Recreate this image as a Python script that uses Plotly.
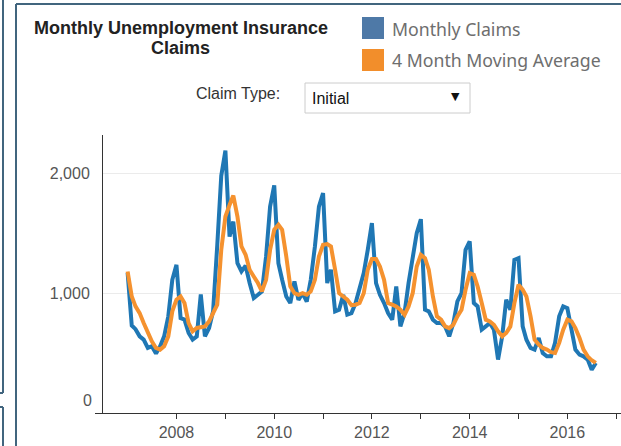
import plotly.graph_objects as go
import pandas as pd

# ---- data ----
months = pd.date_range("2007-01-01", periods=116, freq="MS")

monthly_claims = [
    1170, 730, 700, 640, 613, 543, 557, 496, 557, 640, 807, 1112,
    1237, 793, 780, 668, 613, 640, 990, 640, 710, 850, 1400, 1980,
    2190, 1473, 1598, 1251, 1182, 1230, 1085, 960, 987, 1015, 1307, 1723,
    1900, 1251, 1112, 973, 918, 1098, 945, 1000, 930, 1112, 1390, 1723,
    1835, 1085, 1196, 848, 862, 987, 821, 834, 918, 1057, 1168, 1362,
    1585, 1085, 987, 918, 834, 779, 1057, 723, 834, 1085, 1307, 1501,
    1618, 862, 849, 779, 751, 751, 723, 640, 751, 932, 1001, 1362,
    1432, 918, 890, 696, 723, 751, 696, 446, 640, 946, 862, 1279,
    1293, 723, 612, 543, 529, 626, 501, 473, 473, 585, 807, 890,
    876, 696, 529, 487, 473, 446, 362, 418,
]

moving_average = [
    1181, 973, 890, 834, 751, 668, 598, 543, 529, 557, 640, 849,
    946, 973, 918, 751, 682, 710, 715, 723, 765, 840, 904, 1362,
    1640, 1737, 1815, 1640, 1390, 1321, 1196, 1140, 1085, 1015, 1112, 1362,
    1530, 1571, 1529, 1307, 1057, 1000, 987, 1000, 987, 1015, 1112, 1307,
    1404, 1410, 1390, 1196, 1000, 973, 946, 900, 904, 918, 1000, 1196,
    1285, 1285, 1223, 1112, 918, 904, 890, 862, 820, 890, 1000, 1223,
    1321, 1293, 1196, 973, 807, 779, 723, 709, 737, 807, 862, 1029,
    1168, 1154, 1057, 918, 779, 765, 737, 682, 640, 668, 723, 918,
    1071, 1029, 973, 807, 612, 571, 543, 529, 508, 501, 585, 696,
    779, 765, 709, 626, 529, 473, 440, 418,
]

x_tick_vals = [f"{y}-01-01" for y in range(2008, 2018)]
x_tick_text = [str(y) if y % 2 == 0 else "" for y in range(2008, 2018)]
y_tick_vals = [1000, 2000]
y_tick_text = ["1,000", "2,000"]

# ---- layout helpers (pixel -> paper) ----
W, H = 621, 446
ML, MR, MT, MB = 103, 0, 135, 33
PW, PH = W - ML - MR, H - MT - MB


def px(x):
    return (x - ML) / PW


def py(y):
    return (H - MB - y) / PH


BLUE = "#1f77b4"
ORANGE = "#f5922f"
BORDER = "#41657e"

fig = go.Figure()
fig.add_trace(go.Scatter(x=months, y=monthly_claims, mode="lines",
                         line=dict(color=BLUE, width=4), name="Monthly Claims"))
fig.add_trace(go.Scatter(x=months, y=moving_average, mode="lines",
                         line=dict(color=ORANGE, width=4), name="4 Month Moving Average"))

shapes = []


def seg(x0, y0, x1, y1, color=BORDER, width=2):
    shapes.append(dict(type="line", xref="paper", yref="paper",
                       x0=px(x0), y0=py(y0), x1=px(x1), y1=py(y1),
                       line=dict(color=color, width=width)))


# dashboard panel borders
seg(16, 4, 16, 446)
seg(16, 4, 621, 4)
seg(3, 0, 3, 393)
seg(0, 393, 3, 393)
seg(0, 407, 3, 407)
seg(3, 407, 3, 446)
# small tick at zero
seg(95, 413.5, 103, 413.5, color="#333", width=1)

# legend squares
shapes.append(dict(type="rect", xref="paper", yref="paper",
                   x0=px(362), x1=px(384), y0=py(39), y1=py(17),
                   fillcolor="#4e79a7", line=dict(width=0)))
shapes.append(dict(type="rect", xref="paper", yref="paper",
                   x0=px(362), x1=px(384), y0=py(71), y1=py(49),
                   fillcolor="#f28e2b", line=dict(width=0)))
# dropdown box
shapes.append(dict(type="rect", xref="paper", yref="paper",
                   x0=px(305), x1=px(470), y0=py(113), y1=py(83),
                   fillcolor="white", line=dict(color="#cccccc", width=1)))

annotations = [
    dict(text="<b>Monthly Unemployment Insurance</b>", x=px(180.5), y=py(28),
         font=dict(size=18, color="#222", family="Liberation Sans")),
    dict(text="<b>Claims</b>", x=px(180.5), y=py(48),
         font=dict(size=18, color="#222", family="Liberation Sans")),
    dict(text="Monthly Claims", x=px(390), y=py(29), xanchor="left",
         font=dict(size=17.7, color="#6e6e6e", family="Noto Sans")),
    dict(text="4 Month Moving Average", x=px(390), y=py(60), xanchor="left",
         font=dict(size=17.7, color="#6e6e6e", family="Noto Sans")),
    dict(text="Claim Type:", x=px(282), y=py(93), xanchor="right",
         font=dict(size=16, color="#333", family="Liberation Sans")),
    dict(text="Initial", x=px(310), y=py(99), xanchor="left",
         font=dict(size=16, color="#111", family="Liberation Sans")),
    dict(text="▼", x=px(455), y=py(96),
         font=dict(size=11, color="#111", family="DejaVu Sans")),
]
for a in annotations:
    a.update(xref="paper", yref="paper", showarrow=False)
    a.setdefault("xanchor", "center")
    a.setdefault("yanchor", "middle")

annotations.append(dict(text="0", xref="paper", yref="y", x=px(94), y=0,
                        xanchor="right", yanchor="middle", yshift=13,
                        showarrow=False,
                        font=dict(size=16, color="#555", family="Liberation Sans")))

fig.update_layout(
    width=W, height=H,
    margin=dict(l=ML, r=MR, t=MT, b=MB, pad=0),
    paper_bgcolor="white", plot_bgcolor="white",
    showlegend=False,
    shapes=shapes,
    annotations=annotations,
    xaxis=dict(type="date", range=["2006-07-01", "2017-02-05"],
               tickvals=x_tick_vals, ticktext=x_tick_text,
               ticks="outside", ticklen=5, tickcolor="#333",
               showline=True, linecolor="#333", linewidth=1,
               showgrid=False, zeroline=False,
               tickfont=dict(size=16, color="#555", family="Liberation Sans")),
    yaxis=dict(range=[0, 2321], tickvals=y_tick_vals, ticktext=y_tick_text,
               showgrid=True, gridcolor="#ebebeb", gridwidth=1,
               showline=True, linecolor="#333", linewidth=1,
               ticks="", zeroline=False, ticklabelstandoff=9,
               tickfont=dict(size=16, color="#555", family="Liberation Sans")),
)

fig.write_html("out.html",
               config={"displayModeBar": False},
               post_script="document.body.style.margin='0';document.body.style.overflow='hidden';")
